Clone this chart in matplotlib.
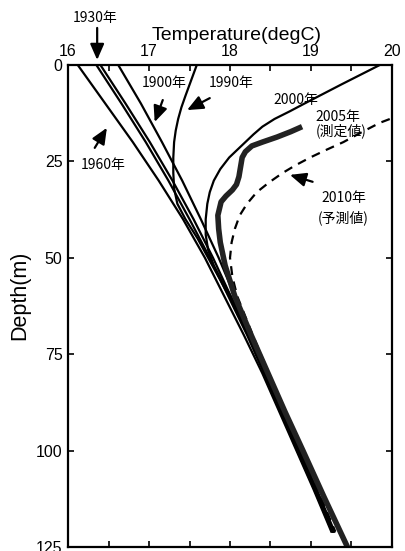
import numpy as np
import matplotlib
matplotlib.use("Agg")
import matplotlib.pyplot as plt
from matplotlib.ticker import MultipleLocator

plt.rcParams['font.family'] = ['Liberation Sans', 'Noto Sans CJK JP']
jp_font = ['Noto Sans CJK JP', 'DejaVu Sans']

# temperature profiles (degC) against depth (m)
depth_hist = [0, 10, 20, 30, 40, 50, 60, 70, 80, 90, 100, 110, 121]
temp_1960 = [16.12, 16.46, 16.80, 17.12, 17.42, 17.69, 17.93, 18.17, 18.40, 18.61, 18.82, 19.03, 19.25]
temp_1930 = [16.35, 16.66, 16.96, 17.24, 17.50, 17.75, 17.98, 18.21, 18.42, 18.63, 18.83, 19.04, 19.26]
temp_1930b = [16.40, 16.71, 17.01, 17.29, 17.55, 17.79, 18.01, 18.23, 18.44, 18.64, 18.84, 19.05, 19.27]
temp_1900 = [16.62, 16.90, 17.16, 17.41, 17.64, 17.86, 18.06, 18.26, 18.46, 18.66, 18.86, 19.06, 19.28]

depth_1990 = [0, 4, 8, 11, 14, 17, 20, 24, 28, 32, 36, 40, 45, 50, 60, 70, 80, 90, 100, 110, 121]
temp_1990 = [17.59, 17.52, 17.45, 17.40, 17.36, 17.33, 17.31, 17.30, 17.30, 17.31, 17.35, 17.45,
             17.60, 17.73, 17.99, 18.23, 18.45, 18.65, 18.85, 19.06, 19.27]

depth_2000 = [0, 5, 10, 12, 14, 16, 18, 20, 22, 24, 27, 30, 33, 36, 40, 44, 48, 52, 56, 60,
              70, 80, 90, 100, 110, 121]
temp_2000 = [19.85, 19.38, 18.92, 18.74, 18.55, 18.40, 18.29, 18.19, 18.09, 17.99, 17.88, 17.80,
             17.75, 17.72, 17.70, 17.70, 17.73, 17.80, 17.90, 18.01, 18.25, 18.46, 18.66, 18.86,
             19.07, 19.29]

# 2005 measured profile
depth_2005 = [16, 17.3, 18.7, 20, 21, 22.5, 24, 26.5, 29, 31, 32.4, 34, 35.5, 39, 42.5, 46, 52,
              60, 70, 80, 90, 100, 112, 125]
temp_2005 = [18.89, 18.75, 18.58, 18.40, 18.27, 18.19, 18.15, 18.13, 18.11, 18.08, 18.03, 17.95,
             17.89, 17.85, 17.86, 17.88, 17.94, 18.06, 18.26, 18.47, 18.68, 18.90, 19.16, 19.45]

# 2010 predicted profile
depth_2010 = [12.5, 13, 15, 17.5, 20, 22, 24, 26, 28, 30.5, 33, 36, 39, 42.5, 46, 50, 55, 60,
              70, 80, 90, 100, 110, 121]
temp_2010 = [20.15, 20.10, 19.85, 19.62, 19.40, 19.19, 18.99, 18.81, 18.65, 18.48, 18.33, 18.21,
             18.12, 18.06, 18.02, 18.00, 18.03, 18.09, 18.28, 18.48, 18.68, 18.88, 19.08, 19.30]

fig = plt.figure(figsize=(4.06, 5.51), dpi=100)
ax = fig.add_axes([0.1675, 0.0073, 0.798, 0.8748])

thin = dict(color='k', lw=1.6)
ax.plot(temp_1960, depth_hist, **thin)
ax.plot(temp_1930, depth_hist, **thin)
ax.plot(temp_1930b, depth_hist, **thin)
ax.plot(temp_1900, depth_hist, **thin)
ax.plot(temp_1990, depth_1990, **thin)
ax.plot(temp_2000, depth_2000, **thin)
ax.plot(temp_2010, depth_2010, color='k', lw=1.6, ls=(0, (4, 3)))
ax.plot(temp_2005, depth_2005, color='#222222', lw=4.0, solid_capstyle='butt',
        solid_joinstyle='round')

ax.set_xlim(16, 20)
ax.set_ylim(125, 0)
ax.xaxis.set_major_locator(MultipleLocator(1))
ax.xaxis.set_minor_locator(MultipleLocator(0.5))
ax.yaxis.set_major_locator(MultipleLocator(25))
ax.tick_params(which='both', direction='in', top=True, bottom=True, left=True, right=True,
               labeltop=True, labelbottom=False, length=4.5, width=1.2, labelsize=11.5, pad=4)
for sp in ax.spines.values():
    sp.set_linewidth(1.6)

ax.set_xlabel('Temperature(degC)', fontsize=14)
ax.xaxis.set_label_position('top')
ax.xaxis.set_label_coords(0.52, 1.052)
ax.set_ylabel('Depth(m)', fontsize=15.5)
ax.yaxis.set_label_coords(-0.115, 0.523)

# labels with arrows
arrow = dict(arrowstyle='-|>,head_length=0.8,head_width=0.35', color='k', lw=1.6,
             shrinkA=0, shrinkB=0, mutation_scale=12)
notes = [
    ('1930年', 16.33, -12.2, 16.36, -9.6, 16.36, -1.3),
    ('1900年', 17.19, 4.7, 17.17, 9.1, 17.07, 14.8),
    ('1990年', 18.01, 4.7, 17.75, 8.6, 17.47, 11.7),
    ('1960年', 16.44, 25.9, 16.33, 21.5, 16.48, 16.3),
    ('2010年', 19.40, 34.5, 19.02, 30.3, 18.74, 28.5),
]
for label, tx, ty, x0, y0, x1, y1 in notes:
    ax.text(tx, ty, label, ha='center', va='center', fontsize=10, family=jp_font, clip_on=False)
    ax.annotate('', xy=(x1, y1), xytext=(x0, y0), arrowprops=arrow, annotation_clip=False)

ax.text(18.81, 9.0, '2000年', ha='center', va='center', fontsize=10, family=jp_font)
ax.text(19.33, 13.5, '2005年', ha='center', va='center', fontsize=10, family=jp_font)
ax.text(19.37, 17.0, '(測定値)', ha='center', va='center', fontsize=10, family=jp_font)
ax.text(19.40, 39.7, '(予測値)', ha='center', va='center', fontsize=10, family=jp_font)

fig.savefig('out.png', dpi=100)
